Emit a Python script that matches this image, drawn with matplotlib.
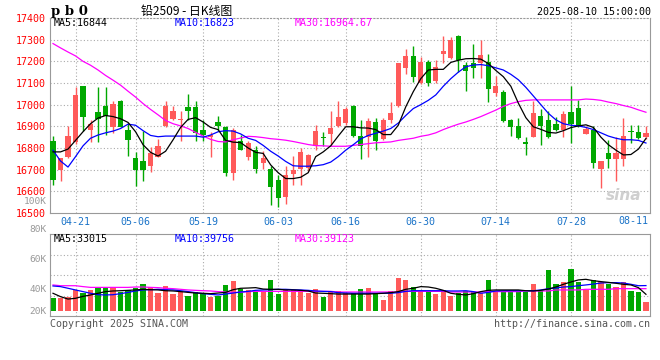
import matplotlib.pyplot as plt

# daily candles, pb0 (lead 2509), 2025-04-16 .. 2025-08-11
opens = [16830, 16698, 16758, 16828, 17086, 16885, 16967, 16995, 16895, 17019,
         16885, 16756, 16741, 16717, 16760, 16900, 16935, 16927, 16989, 16989,
         16885, 16850, 16921, 16897, 16683, 16833, 16760, 16793, 16729, 16701,
         16650, 16576, 16679, 16701, 16709, 16811, 16851, 16866, 16900, 16915,
         16995, 16854, 16851, 16921, 16842, 16927, 16995, 17167, 17224, 17102,
         17199, 17109, 17234, 17216, 17315, 17183, 17190, 17190, 17199, 17053,
         17060, 16930, 16903, 16827, 16851, 16949, 16930, 16912, 16885, 16964,
         16986, 16866, 16885, 16701, 16778, 16747, 16750, 16880, 16876, 16850]
highs = [16854, 16753, 16900, 17080, 17086, 16930, 17080, 17080, 17015, 17022,
         16915, 16781, 16877, 16805, 16842, 17018, 16995, 16973, 17050, 17019,
         16930, 16872, 16946, 16900, 16890, 16862, 16831, 16808, 16785, 16717,
         16674, 16717, 16763, 16801, 16770, 16906, 16876, 16969, 17015, 16989,
         16999, 16927, 16938, 16938, 16938, 17010, 17193, 17259, 17270, 17221,
         17205, 17208, 17315, 17312, 17320, 17198, 17279, 17297, 17236, 17132,
         17068, 16934, 16937, 16851, 17015, 16979, 16969, 16943, 16973, 17086,
         17022, 16900, 16900, 16740, 16836, 16851, 16937, 16908, 16908, 16903]
lows = [16630, 16647, 16755, 16820, 16877, 16828, 16827, 16862, 16869, 16895,
        16763, 16625, 16648, 16689, 16758, 16898, 16930, 16831, 16930, 16831,
        16831, 16760, 16880, 16671, 16653, 16790, 16745, 16686, 16701, 16538,
        16526, 16541, 16630, 16630, 16694, 16790, 16811, 16816, 16895, 16905,
        16850, 16750, 16758, 16790, 16835, 16915, 16990, 17140, 17106, 17095,
        17088, 17100, 17190, 17210, 17150, 17065, 17121, 17121, 17014, 17040,
        16920, 16854, 16840, 16767, 16851, 16816, 16845, 16880, 16851, 16821,
        16895, 16866, 16709, 16614, 16709, 16648, 16717, 16821, 16840, 16840]
closes = [16653, 16753, 16857, 17045, 16944, 16912, 16935, 16946, 17004, 16895,
          16839, 16698, 16698, 16775, 16808, 16995, 16973, 16935, 16973, 16869,
          16860, 16859, 16900, 16686, 16885, 16793, 16824, 16701, 16753, 16620,
          16569, 16674, 16698, 16781, 16766, 16880, 16845, 16891, 16944, 16982,
          16857, 16811, 16926, 16830, 16930, 16961, 17193, 17224, 17126, 17198,
          17099, 17172, 17247, 17297, 17208, 17157, 17170, 17228, 17074, 17086,
          16926, 16895, 16845, 16819, 16961, 16900, 16850, 16885, 16958, 16912,
          16900, 16889, 16732, 16740, 16747, 16775, 16857, 16872, 16845, 16869]

# moving averages as drawn on the chart
ma5 = [16782, 16782, 16795, 16835, 16875, 16912, 16938, 16950, 16945, 16935,
       16918, 16875, 16815, 16780, 16763, 16785, 16838, 16895, 16932, 16940,
       16920, 16895, 16885, 16835, 16827, 16825, 16800, 16780, 16775, 16722,
       16686, 16659, 16659, 16665, 16686, 16760, 16782, 16810, 16855, 16898,
       16898, 16893, 16892, 16885, 16862, 16862, 16905, 16990, 17060, 17120,
       17160, 17163, 17163, 17195, 17205, 17212, 17213, 17210, 17190, 17158,
       17129, 17085, 17007, 16940, 16898, 16886, 16872, 16869, 16880, 16894,
       16902, 16907, 16895, 16850, 16815, 16790, 16768, 16770, 16795, 16844]
ma10 = [16790, 16740, 16712, 16760, 16810, 16845, 16860, 16870, 16878, 16890,
        16910, 16905, 16880, 16858, 16852, 16855, 16855, 16855, 16855, 16855,
        16850, 16860, 16875, 16880, 16878, 16865, 16845, 16835, 16812, 16785,
        16763, 16738, 16718, 16716, 16716, 16718, 16723, 16735, 16760, 16790,
        16815, 16842, 16858, 16868, 16878, 16890, 16915, 16950, 16982, 17000,
        17020, 17045, 17085, 17120, 17150, 17175, 17183, 17185, 17180, 17170,
        17160, 17140, 17115, 17080, 17040, 17000, 16960, 16930, 16912, 16905,
        16902, 16895, 16885, 16870, 16855, 16845, 16838, 16838, 16835, 16823]
ma30 = [17282, 17262, 17243, 17225, 17200, 17182, 17160, 17135, 17113, 17090,
        17062, 17035, 17005, 16978, 16953, 16927, 16912, 16902, 16890, 16872,
        16855, 16840, 16830, 16828, 16838, 16846, 16854, 16852, 16848, 16843,
        16840, 16836, 16830, 16823, 16816, 16811, 16810, 16808, 16808, 16808,
        16812, 16816, 16820, 16824, 16826, 16828, 16835, 16840, 16845, 16854,
        16860, 16870, 16885, 16898, 16910, 16920, 16932, 16945, 16960, 16975,
        16992, 17005, 17014, 17020, 17022, 17022, 17022, 17022, 17022, 17022,
        17022, 17026, 17024, 17020, 17012, 17005, 16996, 16988, 16976, 16965]

# volume, thousands of lots
volume = [30.4, 29.9, 31.2, 36.1, 33.8, 36.4, 38.4, 38.4, 38.4, 35.1,
          36.4, 38.2, 41.0, 38.7, 34.3, 39.5, 33.2, 35.6, 31.9, 35.1,
          33.2, 31.2, 31.7, 40.3, 43.4, 37.1, 36.1, 35.6, 35.1, 44.2,
          33.5, 36.1, 36.1, 36.1, 33.8, 37.1, 31.2, 35.6, 35.6, 34.3,
          33.8, 37.1, 38.2, 33.8, 28.3, 35.6, 46.0, 44.2, 38.7, 35.6,
          35.1, 33.0, 36.1, 31.9, 33.8, 35.6, 35.1, 33.8, 44.2, 35.1,
          35.1, 35.1, 35.1, 35.1, 41.0, 35.6, 51.9, 41.0, 42.3, 53.0,
          42.3, 36.1, 44.2, 42.3, 40.8, 39.0, 42.3, 35.6, 34.5, 26.8]
vma5 = [33.8, 31.2, 29.3, 29.9, 31.4, 32.5, 33.8, 35.1, 35.6, 35.8,
        36.1, 36.4, 36.9, 36.6, 36.4, 35.8, 35.6, 35.1, 34.5, 34.0,
        33.8, 33.5, 34.0, 34.5, 36.6, 37.7, 37.9, 38.2, 37.1, 36.9,
        36.9, 36.4, 36.4, 36.1, 35.6, 34.0, 33.8, 33.5, 33.2, 33.2,
        33.2, 33.2, 33.2, 33.5, 33.8, 34.3, 35.1, 36.9, 37.7, 39.0,
        38.7, 37.7, 36.1, 33.8, 33.0, 32.5, 33.5, 35.1, 36.1, 36.4,
        36.4, 36.4, 36.4, 35.8, 35.6, 36.1, 37.1, 38.7, 40.8, 42.6,
        44.2, 44.7, 43.6, 42.9, 42.3, 41.6, 40.8, 40.3, 38.2, 33.0]
vma10 = [39.5, 39.0, 37.7, 36.4, 35.1, 33.8, 32.7, 32.5, 32.7, 33.5,
         34.5, 35.6, 36.4, 36.6, 36.9, 36.6, 36.4, 35.8, 35.1, 34.3,
         33.5, 33.0, 32.5, 33.2, 34.0, 34.8, 35.3, 36.1, 36.4, 36.6,
         36.9, 36.9, 36.6, 36.4, 36.1, 35.6, 35.3, 35.1, 34.3, 34.0,
         33.8, 33.8, 33.8, 33.8, 33.8, 33.8, 34.3, 35.3, 35.8, 35.8,
         35.8, 35.8, 35.8, 35.6, 35.6, 35.8, 35.1, 33.8, 34.5, 35.6,
         35.8, 35.8, 35.8, 35.8, 35.8, 36.4, 37.4, 37.9, 38.7, 39.0,
         39.7, 40.3, 41.0, 41.8, 42.1, 42.1, 41.8, 40.8, 39.7, 39.8]
vma30 = [40.3, 39.7, 39.7, 39.7, 39.0, 38.4, 38.4, 38.4, 38.4, 38.4,
         38.4, 38.7, 38.7, 38.4, 38.2, 37.7, 37.4, 36.9, 36.4, 36.1,
         35.8, 35.6, 35.1, 34.8, 34.5, 34.5, 35.1, 35.3, 35.3, 35.3,
         35.3, 35.3, 35.3, 35.3, 35.3, 35.3, 35.3, 35.3, 34.8, 34.8,
         34.8, 34.8, 34.8, 34.8, 34.8, 34.8, 34.8, 35.3, 35.3, 35.3,
         35.3, 35.3, 35.3, 34.8, 34.8, 34.8, 34.8, 34.8, 35.1, 35.1,
         35.1, 35.1, 35.1, 35.6, 35.6, 35.6, 35.6, 36.4, 36.4, 36.4,
         36.4, 36.9, 36.9, 36.9, 36.9, 37.4, 37.4, 37.4, 37.4, 37.4]

date_pos = [3, 11, 20, 30, 39, 49, 59, 69]
date_labels = ["04-21", "05-06", "05-19", "06-03", "06-16", "06-30", "07-14", "07-28"]
price_ticks = list(range(16500, 17401, 100))

RED = "#ff5a5a"
GREEN = "#00a800"
GRID = "#aaaaaa"
FRAME = "#999999"
DATE_BLUE = "#1a73c8"
MONO = "DejaVu Sans Mono"
FS = 7.2

W, H = 660, 360
fig = plt.figure(figsize=(6.6, 3.6), dpi=100)


def box(l, t, r, b):
    return [l / W, 1 - b / H, (r - l) / W, (b - t) / H]


def ftext(x, y, s, **kw):
    kw.setdefault("family", MONO)
    kw.setdefault("fontsize", FS)
    kw.setdefault("va", "center")
    fig.text(x / W, 1 - y / H, s, **kw)


n = len(closes)
idx = list(range(n))
colors = [RED if c >= o else GREEN for o, c in zip(opens, closes)]
xlim = (-0.4, 79.54)

# ---- price panel
ax = fig.add_axes(box(50, 18, 650, 213))
ax.set_xlim(*xlim)
ax.set_ylim(16500, 17400)
for p in price_ticks[1:-1]:
    ax.axhline(p, color=GRID, lw=0.8, ls=(0, (1, 2)), zorder=0)
for d in date_pos:
    ax.axvline(d, color=GRID, lw=0.8, ls=(0, (1, 2)), zorder=0)

ax.vlines(idx, lows, highs, colors=colors, lw=1, zorder=2)
bottoms = [min(o, c) for o, c in zip(opens, closes)]
heights = [max(abs(c - o), 4) for o, c in zip(opens, closes)]
ax.bar(idx, heights, bottom=bottoms, width=0.7, color=colors, lw=0, zorder=3)

ax.plot(idx, ma30, color="#ff00ff", lw=0.9, zorder=4)
ax.plot(idx, ma10, color="#0000ff", lw=0.9, zorder=4)
ax.plot(idx, ma5, color="black", lw=0.9, zorder=4)

ax.set_yticks(price_ticks)
ax.set_yticklabels([str(p) for p in price_ticks], color="red", family=MONO, fontsize=FS)
ax.set_xticks(date_pos)
ax.set_xticklabels(date_labels, color=DATE_BLUE, family=MONO, fontsize=FS)
ax.tick_params(length=0, pad=3)
ax.text(0.997, -0.015, "08-11", transform=ax.transAxes, ha="right", va="top",
        color=DATE_BLUE, family=MONO, fontsize=FS)
for s in ax.spines.values():
    s.set_color(FRAME)
ax.spines["top"].set_linestyle((0, (1, 2)))
ax.text(0.985, 0.05, "sina", transform=ax.transAxes, ha="right", va="bottom",
        color="#cfcfcf", fontsize=11, style="italic", weight="bold", zorder=1)

# ---- volume panel
axv = fig.add_axes(box(50, 234, 650, 316))
axv.set_xlim(*xlim)
axv.set_ylim(16.1, 80)
for f in (0.25, 0.5, 0.75):
    axv.plot([0, 1], [f, f], transform=axv.transAxes, color=GRID, lw=0.8,
             ls=(0, (1, 2)), zorder=0)
for d in date_pos:
    axv.axvline(d, color=GRID, lw=0.8, ls=(0, (1, 2)), zorder=0)
axv.bar(idx, [v - 20 for v in volume], bottom=20, width=0.7, color=colors, lw=0, zorder=2)
axv.plot(idx, vma30, color="#ff00ff", lw=0.9, zorder=3)
axv.plot(idx, vma10, color="#0000ff", lw=0.9, zorder=3)
axv.plot(idx, vma5, color="black", lw=0.9, zorder=3)
axv.set_xticks([])
axv.set_yticks([])
for s in axv.spines.values():
    s.set_color(FRAME)

# ---- texts
ftext(51, 11, "p b 0", family="DejaVu Serif", weight="bold", fontsize=9.5)
ftext(141, 11, "铅2509 - 日K线图", family=["Noto Sans CJK SC", "DejaVu Sans"], fontsize=8.6)
ftext(651, 12, "2025-08-10 15:00:00", ha="right")

ftext(54, 23, "MA5:16844", color="black")
ftext(175, 23, "MA10:16823", color="#0000ff")
ftext(295, 23, "MA30:16964.67", color="#ff00ff")

ftext(54, 239, "MA5:33015", color="black")
ftext(175, 239, "MA10:39756", color="#0000ff")
ftext(295, 239, "MA30:39123", color="#ff00ff")

for lab, y in [("100K", 201), ("80K", 230), ("60K", 260), ("40K", 290), ("20K", 311)]:
    ftext(47, y, lab, ha="right", color="#999999", fontsize=6.8)

ftext(50, 324, "Copyright 2025 SINA.COM", color="#555555")
ftext(650, 324, "http://finance.sina.com.cn", ha="right", color="#555555")

fig.savefig("out.png", dpi=100)
